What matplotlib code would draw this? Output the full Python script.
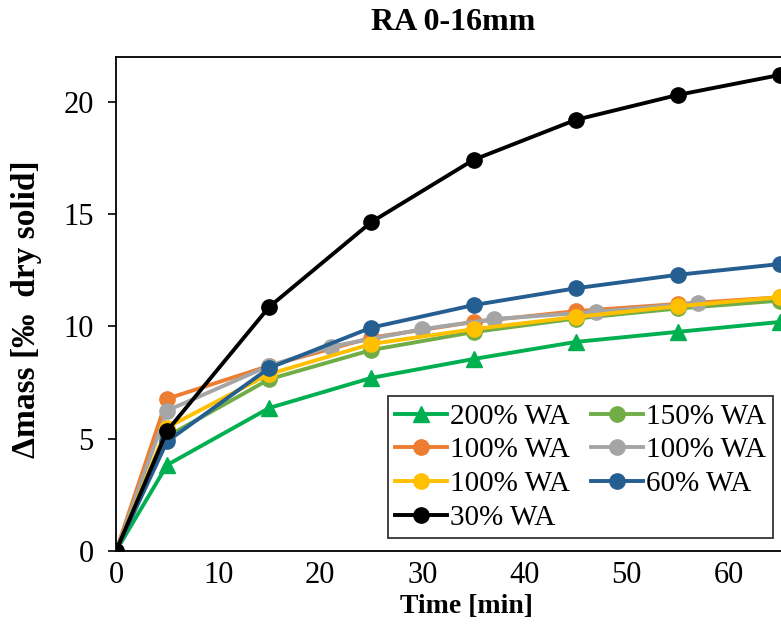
import matplotlib
matplotlib.use('Agg')
import matplotlib.pyplot as plt

plt.rcParams['font.family'] = ['Liberation Serif', 'DejaVu Serif']

# time points [min]
time = [0, 5, 15, 25, 35, 45, 55, 65]
time_gray = [0, 5, 15, 21, 30, 37, 47, 57]

wa200 = [0, 3.83, 6.37, 7.71, 8.55, 9.31, 9.76, 10.2]
wa150 = [0, 5.1, 7.65, 8.95, 9.75, 10.35, 10.8, 11.15]
wa100_orange = [0, 6.78, 8.25, 9.5, 10.2, 10.68, 11.0, 11.3]
wa100_gray = [0, 6.25, 8.25, 9.1, 9.88, 10.33, 10.65, 11.05]
wa100_yellow = [0, 5.5, 7.88, 9.22, 9.88, 10.42, 10.9, 11.3]
wa60 = [0, 4.88, 8.15, 9.95, 10.95, 11.7, 12.3, 12.78]
wa30 = [0, 5.35, 10.87, 14.65, 17.42, 19.2, 20.31, 21.2]

fig = plt.figure(figsize=(7.81, 6.34), dpi=100)
# axes runs past the right edge of the picture (cropped, like the reference)
ax = fig.add_axes([116 / 781, 83 / 634, 715 / 781, 494 / 634])

lw = 2.8
ms = 11
h200, = ax.plot(time, wa200, color='#00B050', marker='^', lw=lw, ms=ms, label='200% WA')
h150, = ax.plot(time, wa150, color='#70AD47', marker='o', lw=lw, ms=ms, label='150% WA')
h100o, = ax.plot(time, wa100_orange, color='#ED7D31', marker='o', lw=lw, ms=ms, label='100% WA')
h100g, = ax.plot(time_gray, wa100_gray, color='#A5A5A5', marker='o', lw=lw, ms=ms, label='100% WA')
h100y, = ax.plot(time, wa100_yellow, color='#FFC000', marker='o', lw=lw, ms=ms, label='100% WA')
h60, = ax.plot(time, wa60, color='#255E91', marker='o', lw=lw, ms=ms, label='60% WA')
h30, = ax.plot(time, wa30, color='black', marker='o', lw=lw, ms=ms, label='30% WA')

ax.set_xlim(0, 70)
ax.set_ylim(0, 22)
ax.set_xticks(range(0, 70, 10))
ax.set_yticks(range(0, 21, 5))
ax.tick_params(axis='y', direction='out', length=6, width=1.2, labelsize=22, pad=10)
ax.tick_params(axis='x', length=0, labelsize=22, pad=7)
for sp in ax.spines.values():
    sp.set_linewidth(1.3)

ax.set_xlabel('Time [min]', fontsize=20, fontweight='bold')
ax.xaxis.set_label_coords(0.49, -0.088)
ax.set_ylabel('Δmass [‰  dry solid]', fontsize=24, fontweight='bold')
ax.yaxis.set_label_coords(-0.103, 0.49)

fig.text(453 / 781, 1 - 22 / 634, 'RA 0-16mm', fontsize=23, fontweight='bold',
         ha='center', va='center')

# column-wise order so the legend reads row by row like the original
handles = [h200, h100o, h100y, h30, h150, h100g, h60]
leg = ax.legend(handles=handles, labels=[h.get_label() for h in handles],
                ncol=2, loc='lower left', bbox_to_anchor=(0.38, 0.026),
                borderaxespad=0, fontsize=21, frameon=True, fancybox=False,
                edgecolor='black', handlelength=1.8, handletextpad=0.1,
                columnspacing=0.7, labelspacing=0.25, borderpad=0.25)
leg.get_frame().set_linewidth(1.3)

fig.savefig('out.png', dpi=100)
